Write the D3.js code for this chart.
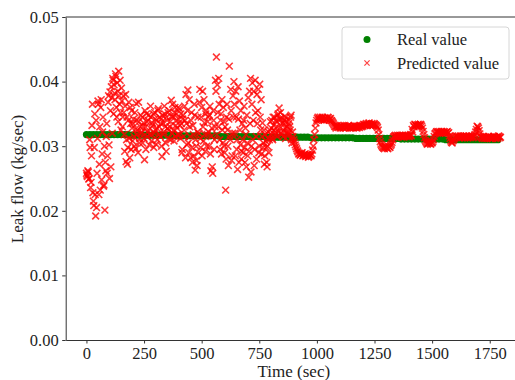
<!DOCTYPE html>
<html>
<head>
<meta charset="utf-8">
<script src="https://cdn.jsdelivr.net/npm/d3@7"></script>
<style>
  body { margin: 0; background: #fff; }
  svg { display: block; }
  text { font-family: "Liberation Serif", "Times New Roman", serif; fill: #222; }
</style>
</head>
<body>
<div id="chart"></div>
<script>
// x ticks (sec) and y ticks (kg/sec)
const xTicks = [0, 250, 500, 750, 1000, 1250, 1500, 1750];
const yTicks = [0, 0.01, 0.02, 0.03, 0.04, 0.05];

// real leak flow, one sample every 15 sec starting at t = 0
const realStep = 15;
const realValue = [
  0.0318, 0.0318, 0.0318, 0.0318, 0.0318, 0.0318, 0.0318, 0.0318, 0.0318, 0.0318, 0.0318, 0.0318, 0.0318,
  0.0317, 0.0317, 0.0317, 0.0317, 0.0317, 0.0317, 0.0317, 0.0317, 0.0317, 0.0317, 0.0317, 0.0317, 0.0317,
  0.0316, 0.0316, 0.0316, 0.0316, 0.0316, 0.0316, 0.0316, 0.0316, 0.0316, 0.0316, 0.0316, 0.0316, 0.0316,
  0.0315, 0.0315, 0.0315, 0.0315, 0.0315, 0.0315, 0.0315, 0.0315, 0.0315, 0.0315, 0.0315, 0.0315, 0.0315,
  0.0314, 0.0314, 0.0314, 0.0314, 0.0314, 0.0314, 0.0314, 0.0314, 0.0314, 0.0314, 0.0314, 0.0314, 0.0314,
  0.0313, 0.0313, 0.0313, 0.0313, 0.0313, 0.0313, 0.0313, 0.0313, 0.0313, 0.0313, 0.0313, 0.0313, 0.0313,
  0.0312, 0.0312, 0.0312, 0.0312, 0.0312, 0.0312, 0.0312, 0.0312, 0.0312, 0.0312, 0.0312, 0.0312, 0.0312,
  0.0311, 0.0311, 0.0311, 0.0311, 0.0311, 0.0311, 0.0311, 0.0311, 0.0311, 0.0311, 0.0311, 0.0311, 0.0311,
  0.0310, 0.0310, 0.0310, 0.0310, 0.0310, 0.0310, 0.0310, 0.0310, 0.0310, 0.0310, 0.0310, 0.0310, 0.0310,
  0.0310, 0.0310, 0.0310
];

// predicted leak flow, 0-896 sec, samples at t = 0, 4, 8, ...
const earlyStep = 4;
const predEarlyA = [
  0.0258, 0.0253, 0.0260, 0.0250, 0.0298, 0.0244, 0.0332, 0.0228, 0.0208, 0.0350,
  0.0192, 0.0205, 0.0312, 0.0365, 0.0272, 0.0232, 0.0372, 0.0288, 0.0345, 0.0240,
  0.0201, 0.0262, 0.0335, 0.0285, 0.0378, 0.0250, 0.0355, 0.0392, 0.0320, 0.0402,
  0.0395, 0.0372, 0.0408, 0.0345, 0.0385, 0.0416, 0.0365, 0.0352, 0.0390, 0.0330,
  0.0378, 0.0318, 0.0362, 0.0276, 0.0345, 0.0298, 0.0368, 0.0282, 0.0335, 0.0355,
  0.0308, 0.0342, 0.0300, 0.0326, 0.0366, 0.0318, 0.0290, 0.0338, 0.0312, 0.0348,
  0.0322, 0.0305, 0.0336, 0.0279, 0.0330, 0.0350, 0.0315, 0.0340, 0.0302, 0.0328,
  0.0345, 0.0318, 0.0332, 0.0298, 0.0352, 0.0325, 0.0340, 0.0310, 0.0358, 0.0330,
  0.0315, 0.0342, 0.0284, 0.0336, 0.0322, 0.0350, 0.0305, 0.0345, 0.0328, 0.0312,
  0.0355, 0.0338, 0.0371, 0.0320, 0.0346, 0.0308, 0.0360, 0.0332, 0.0350, 0.0318,
  0.0342, 0.0358, 0.0312, 0.0335, 0.0295, 0.0348, 0.0325, 0.0340, 0.0380, 0.0302,
  0.0387, 0.0290, 0.0330, 0.0282, 0.0352, 0.0275, 0.0318, 0.0365, 0.0263, 0.0300,
  0.0270, 0.0345, 0.0320, 0.0388, 0.0298, 0.0360, 0.0385, 0.0308, 0.0336, 0.0292,
  0.0355, 0.0318, 0.0345, 0.0300, 0.0362, 0.0262, 0.0328, 0.0258, 0.0340, 0.0310,
  0.0402, 0.0438, 0.0395, 0.0330, 0.0365, 0.0295, 0.0350, 0.0372, 0.0305, 0.0338,
  0.0290, 0.0232, 0.0345, 0.0325, 0.0270, 0.0424, 0.0310, 0.0355, 0.0285, 0.0378,
  0.0400, 0.0320, 0.0385, 0.0295, 0.0264, 0.0342, 0.0370, 0.0302, 0.0280, 0.0335,
  0.0290, 0.0362, 0.0275, 0.0318, 0.0348, 0.0285, 0.0252, 0.0385, 0.0405, 0.0300,
  0.0398, 0.0340, 0.0270, 0.0402, 0.0315, 0.0380, 0.0355, 0.0290, 0.0396, 0.0325,
  0.0288, 0.0336, 0.0305, 0.0272, 0.0318, 0.0298, 0.0268, 0.0312, 0.0290, 0.0325,
  0.0318, 0.0340, 0.0310, 0.0332, 0.0345, 0.0322, 0.0338, 0.0315, 0.0350, 0.0359,
  0.0328, 0.0342, 0.0318, 0.0336, 0.0325, 0.0346, 0.0312, 0.0338, 0.0330, 0.0320,
  0.0340, 0.0325, 0.0348, 0.0305, 0.0315
];
// predicted leak flow, samples at t = 2, 6, 10, ... 894
const earlyOffsetB = 2;
const predEarlyB = [
  0.0255, 0.0262, 0.0249, 0.0310, 0.0236, 0.0285, 0.0365, 0.0215, 0.0298, 0.0225,
  0.0340, 0.0258, 0.0370, 0.0225, 0.0330, 0.0360, 0.0248, 0.0322, 0.0238, 0.0300,
  0.0275, 0.0315, 0.0258, 0.0368, 0.0302, 0.0384, 0.0268, 0.0375, 0.0405, 0.0350,
  0.0382, 0.0412, 0.0360, 0.0398, 0.0338, 0.0378, 0.0402, 0.0325, 0.0370, 0.0345,
  0.0352, 0.0292, 0.0380, 0.0310, 0.0272, 0.0340, 0.0312, 0.0360, 0.0295, 0.0328,
  0.0335, 0.0315, 0.0352, 0.0296, 0.0340, 0.0325, 0.0368, 0.0305, 0.0330, 0.0320,
  0.0345, 0.0330, 0.0312, 0.0355, 0.0295, 0.0338, 0.0322, 0.0348, 0.0318, 0.0362,
  0.0308, 0.0336, 0.0350, 0.0320, 0.0342, 0.0303, 0.0328, 0.0355, 0.0318, 0.0345,
  0.0335, 0.0300, 0.0348, 0.0318, 0.0362, 0.0330, 0.0292, 0.0340, 0.0352, 0.0325,
  0.0330, 0.0310, 0.0345, 0.0365, 0.0325, 0.0352, 0.0315, 0.0340, 0.0328, 0.0360,
  0.0318, 0.0332, 0.0350, 0.0290, 0.0342, 0.0315, 0.0362, 0.0282, 0.0335, 0.0355,
  0.0305, 0.0372, 0.0315, 0.0340, 0.0298, 0.0332, 0.0285, 0.0348, 0.0310, 0.0278,
  0.0322, 0.0290, 0.0368, 0.0312, 0.0345, 0.0285, 0.0330, 0.0372, 0.0318, 0.0350,
  0.0300, 0.0338, 0.0322, 0.0348, 0.0288, 0.0315, 0.0268, 0.0355, 0.0295, 0.0330,
  0.0385, 0.0318, 0.0352, 0.0405, 0.0310, 0.0340, 0.0288, 0.0325, 0.0360, 0.0300,
  0.0330, 0.0280, 0.0365, 0.0300, 0.0342, 0.0315, 0.0388, 0.0278, 0.0320, 0.0345,
  0.0365, 0.0285, 0.0345, 0.0310, 0.0392, 0.0275, 0.0325, 0.0355, 0.0292, 0.0310,
  0.0340, 0.0298, 0.0328, 0.0268, 0.0305, 0.0375, 0.0292, 0.0335, 0.0260, 0.0365,
  0.0310, 0.0385, 0.0295, 0.0352, 0.0280, 0.0335, 0.0388, 0.0300, 0.0345, 0.0372,
  0.0315, 0.0298, 0.0325, 0.0285, 0.0308, 0.0275, 0.0300, 0.0322, 0.0310, 0.0338,
  0.0328, 0.0312, 0.0345, 0.0325, 0.0318, 0.0340, 0.0330, 0.0348, 0.0322, 0.0342,
  0.0352, 0.0320, 0.0335, 0.0315, 0.0340, 0.0328, 0.0345, 0.0322, 0.0318, 0.0335,
  0.0330, 0.0345, 0.0310, 0.0322
];

// predicted leak flow, 900-1794 sec, samples at t = 900, 906, ...
const lateStart = 900;
const lateStep = 6;
const predLateA = [
  0.0310, 0.0302, 0.0296, 0.0291, 0.0289, 0.0287, 0.0290, 0.0286, 0.0288, 0.0285,
  0.0287, 0.0284, 0.0286, 0.0288, 0.0300, 0.0318, 0.0336, 0.0343, 0.0341, 0.0345,
  0.0342, 0.0344, 0.0340, 0.0343, 0.0341, 0.0344, 0.0342, 0.0340, 0.0337, 0.0333,
  0.0330, 0.0331, 0.0329, 0.0330, 0.0332, 0.0330, 0.0328, 0.0331, 0.0329, 0.0330,
  0.0331, 0.0329, 0.0330, 0.0328, 0.0330, 0.0331, 0.0329, 0.0330, 0.0332, 0.0330,
  0.0331, 0.0333, 0.0334, 0.0332, 0.0335, 0.0333, 0.0334, 0.0332, 0.0335, 0.0333,
  0.0331, 0.0325, 0.0312, 0.0303, 0.0299, 0.0297, 0.0300, 0.0298, 0.0296, 0.0299,
  0.0301, 0.0306, 0.0314, 0.0316, 0.0315, 0.0317, 0.0315, 0.0316, 0.0314, 0.0316,
  0.0315, 0.0317, 0.0316, 0.0315, 0.0317, 0.0316, 0.0322, 0.0330, 0.0333, 0.0331,
  0.0334, 0.0332, 0.0333, 0.0328, 0.0318, 0.0309, 0.0305, 0.0304, 0.0306, 0.0303,
  0.0305, 0.0310, 0.0319, 0.0322, 0.0321, 0.0323, 0.0321, 0.0322, 0.0320, 0.0322,
  0.0321, 0.0323, 0.0321, 0.0312, 0.0306, 0.0308, 0.0312, 0.0315, 0.0314, 0.0316,
  0.0313, 0.0315, 0.0314, 0.0316, 0.0314, 0.0315, 0.0313, 0.0315, 0.0314, 0.0316,
  0.0314, 0.0318, 0.0326, 0.0330, 0.0324, 0.0315, 0.0313, 0.0314, 0.0312, 0.0314,
  0.0313, 0.0315, 0.0312, 0.0314, 0.0313, 0.0315, 0.0312, 0.0314, 0.0316, 0.0313
];
// predicted leak flow, samples at t = 903, 909, ... 1797
const lateOffsetB = 3;
const predLateB = [
  0.0306, 0.0299, 0.0293, 0.0288, 0.0286, 0.0289, 0.0285, 0.0287, 0.0284, 0.0286,
  0.0283, 0.0287, 0.0285, 0.0294, 0.0310, 0.0328, 0.0340, 0.0345, 0.0343, 0.0341,
  0.0345, 0.0341, 0.0344, 0.0342, 0.0345, 0.0340, 0.0343, 0.0339, 0.0335, 0.0331,
  0.0328, 0.0332, 0.0330, 0.0328, 0.0331, 0.0329, 0.0332, 0.0328, 0.0330, 0.0332,
  0.0328, 0.0331, 0.0329, 0.0332, 0.0329, 0.0328, 0.0331, 0.0329, 0.0331, 0.0332,
  0.0334, 0.0332, 0.0335, 0.0333, 0.0336, 0.0332, 0.0335, 0.0333, 0.0334, 0.0332,
  0.0329, 0.0318, 0.0307, 0.0301, 0.0298, 0.0296, 0.0299, 0.0297, 0.0300, 0.0298,
  0.0303, 0.0310, 0.0315, 0.0317, 0.0314, 0.0316, 0.0317, 0.0315, 0.0317, 0.0314,
  0.0316, 0.0315, 0.0317, 0.0315, 0.0318, 0.0326, 0.0332, 0.0334, 0.0332, 0.0333,
  0.0331, 0.0334, 0.0331, 0.0323, 0.0313, 0.0307, 0.0303, 0.0305, 0.0304, 0.0306,
  0.0307, 0.0315, 0.0320, 0.0323, 0.0322, 0.0320, 0.0323, 0.0321, 0.0323, 0.0320,
  0.0322, 0.0320, 0.0316, 0.0308, 0.0305, 0.0310, 0.0314, 0.0316, 0.0315, 0.0313,
  0.0316, 0.0313, 0.0315, 0.0313, 0.0316, 0.0314, 0.0316, 0.0313, 0.0315, 0.0313,
  0.0316, 0.0322, 0.0331, 0.0328, 0.0319, 0.0314, 0.0312, 0.0315, 0.0313, 0.0312,
  0.0315, 0.0313, 0.0314, 0.0312, 0.0315, 0.0313, 0.0314, 0.0312, 0.0315, 0.0314
];

const seriesNames = ["Real value", "Predicted value"];

const width = 515, height = 380;
const svg = d3.select("#chart").append("svg").attr("width", width).attr("height", height);

// axes box is cut off on the right, like the reference
const x = d3.scaleLinear().domain([-90, 1890]).range([65.7, 522]);
const y = d3.scaleLinear().domain([0, 0.05]).range([340, 17]);

const realPts = realValue.map((v, i) => ({ t: i * realStep, v: v }));
const predPts = []
    .concat(predEarlyA.map((v, i) => ({ t: i * earlyStep, v: v })))
    .concat(predEarlyB.map((v, i) => ({ t: earlyOffsetB + i * earlyStep, v: v })))
    .concat(predLateA.map((v, i) => ({ t: lateStart + i * lateStep, v: v })))
    .concat(predLateB.map((v, i) => ({ t: lateStart + lateOffsetB + i * lateStep, v: v })));

svg.append("defs").append("clipPath").attr("id", "plotClip")
    .append("rect").attr("x", 65.7).attr("y", 17).attr("width", 460).attr("height", 323);

const plot = svg.append("g").attr("clip-path", "url(#plotClip)");

plot.append("g").selectAll("circle")
    .data(realPts)
    .enter().append("circle")
    .attr("cx", d => x(d.t))
    .attr("cy", d => y(d.v))
    .attr("r", 3.6)
    .attr("fill", "#008000");

const cross = "M-3.4,-3.4L3.4,3.4M-3.4,3.4L3.4,-3.4";
plot.append("g").selectAll("path")
    .data(predPts)
    .enter().append("path")
    .attr("d", cross)
    .attr("transform", d => "translate(" + x(d.t) + "," + y(d.v) + ")")
    .attr("fill", "none")
    .attr("stroke", "#ff0000")
    .attr("stroke-opacity", 0.78)
    .attr("stroke-width", 1.6);

// axes
const xAxis = svg.append("g").attr("transform", "translate(0,340)")
    .call(d3.axisBottom(x).tickValues(xTicks).tickFormat(d3.format("d")).tickSize(3.5).tickPadding(3.5).tickSizeOuter(0));
const yAxis = svg.append("g").attr("transform", "translate(65.7,0)")
    .call(d3.axisLeft(y).tickValues(yTicks).tickFormat(d3.format(".2f")).tickSize(3.5).tickPadding(3.5).tickSizeOuter(0));
[xAxis, yAxis].forEach(a => {
    a.selectAll("path.domain").attr("stroke", "#333").attr("stroke-width", 1);
    a.selectAll(".tick line").attr("stroke", "#333");
    a.selectAll(".tick text").attr("font-size", "16.5px").attr("font-family", "Liberation Serif, serif").attr("fill", "#222");
});
// top spine
svg.append("line").attr("x1", 65.7).attr("x2", 515).attr("y1", 17).attr("y2", 17)
    .attr("stroke", "#333").attr("stroke-width", 1);

svg.append("text")
    .attr("x", x(900)).attr("y", 376.5)
    .attr("text-anchor", "middle")
    .attr("font-size", "17px")
    .text("Time (sec)");

svg.append("text")
    .attr("transform", "translate(23,179) rotate(-90)")
    .attr("text-anchor", "middle")
    .attr("font-size", "17px")
    .text("Leak flow (kg/sec)");

// legend
const legend = svg.append("g");
legend.append("rect")
    .attr("x", 342).attr("y", 27).attr("width", 167).attr("height", 52)
    .attr("rx", 3).attr("fill", "#fff").attr("fill-opacity", 0.8)
    .attr("stroke", "#d6d6d6").attr("stroke-width", 1);
legend.append("circle").attr("cx", 367).attr("cy", 39.5).attr("r", 3.5).attr("fill", "#008000");
legend.append("path").attr("d", "M-2.6,-2.6L2.6,2.6M-2.6,2.6L2.6,-2.6")
    .attr("transform", "translate(367,63)")
    .attr("stroke", "#ff0000").attr("stroke-opacity", 0.75).attr("stroke-width", 1.2).attr("fill", "none");
legend.selectAll("text.lab")
    .data(seriesNames)
    .enter().append("text")
    .attr("class", "lab")
    .attr("x", 397)
    .attr("y", (d, i) => 45 + i * 24)
    .attr("font-size", "16.5px")
    .text(d => d);
</script>
</body>
</html>
